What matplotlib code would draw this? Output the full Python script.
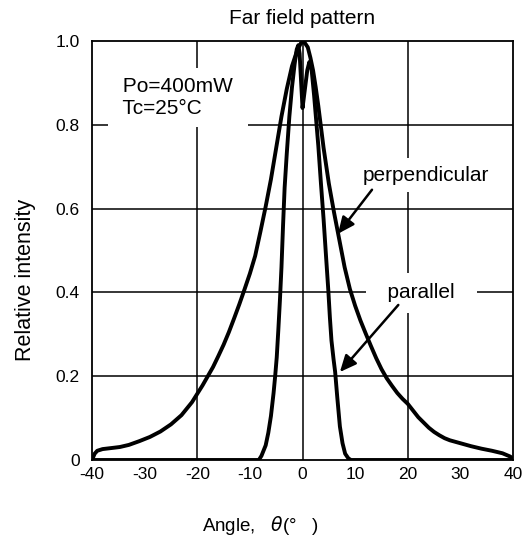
import matplotlib
matplotlib.use("Agg")
import matplotlib.pyplot as plt

plt.rcParams['font.family'] = ['Liberation Sans', 'DejaVu Sans']
plt.rcParams['mathtext.fontset'] = 'dejavusans'

# Perpendicular (wide) profile
perp_angle = [-40, -39.5, -39, -38, -36, -34.7, -33, -31, -29, -27, -25, -23, -21, -20, -19,
              -18, -17, -16, -15, -14, -13, -12, -11, -10, -9, -8, -7, -6, -5, -4, -3, -2,
              -1, -0.3, 0.3, 1, 1.5, 2, 2.5, 3, 3.5, 4, 5, 6, 7, 8, 9, 10, 11, 12, 13, 14,
              15, 16, 17, 18, 19, 20, 22, 24, 25, 26, 27, 28, 30, 32, 34, 36, 38, 39.5, 40]
perp_int = [0.0, 0.015, 0.022, 0.026, 0.029, 0.031, 0.036, 0.045, 0.055, 0.068, 0.085,
            0.107, 0.138, 0.158, 0.178, 0.20, 0.222, 0.248, 0.275, 0.305, 0.338, 0.372,
            0.408, 0.445, 0.487, 0.545, 0.605, 0.67, 0.745, 0.82, 0.885, 0.94, 0.978,
            0.995, 0.998, 0.985, 0.96, 0.93, 0.89, 0.845, 0.795, 0.745, 0.66, 0.59, 0.525,
            0.46, 0.408, 0.368, 0.333, 0.302, 0.272, 0.243, 0.217, 0.195, 0.177, 0.16,
            0.146, 0.134, 0.102, 0.077, 0.067, 0.059, 0.052, 0.047, 0.04, 0.033, 0.027,
            0.022, 0.016, 0.008, 0.0]

# Parallel (narrow) profile
par_angle = [-40, -8.3, -7.8, -7, -6.5, -6, -5.5, -5.2, -4.9, -4.6, -4.3, -4, -3.7, -3.4,
             -3, -2.5, -2, -1.5, -1.1, -0.8, -0.55, -0.3, 0, 0.4, 0.9, 1.3, 1.7, 2.2, 2.6,
             3, 3.5, 4, 4.5, 4.9, 5.2, 5.5, 5.9, 6.2, 6.6, 7.1, 7.6, 8.1, 8.7, 9.2, 40]
par_int = [0.0, 0.0, 0.01, 0.035, 0.065, 0.105, 0.16, 0.2, 0.245, 0.31, 0.38, 0.46, 0.56,
           0.65, 0.73, 0.82, 0.89, 0.945, 0.98, 0.99, 0.97, 0.91, 0.84, 0.88, 0.93, 0.95,
           0.935, 0.87, 0.81, 0.75, 0.66, 0.575, 0.48, 0.405, 0.34, 0.285, 0.24, 0.21,
           0.15, 0.08, 0.04, 0.015, 0.004, 0.0, 0.0]

x_ticks = [-40, -30, -20, -10, 0, 10, 20, 30, 40]
x_tick_labels = ['-40', '-30', '-20', '-10', '0', '10', '20', '30', '40']
y_ticks = [0, 0.2, 0.4, 0.6, 0.8, 1.0]
y_tick_labels = ['0', '0.2', '0.4', '0.6', '0.8', '1.0']
v_grid = [-20, 0, 20]
h_grid = [0.2, 0.4, 0.6, 0.8]

fig = plt.figure(figsize=(5.27, 5.38), dpi=100)
ax = fig.add_axes([0.1746, 0.145, 0.7989, 0.7788])

for g in v_grid:
    ax.axvline(g, color='black', lw=1.1, zorder=1)
for g in h_grid:
    ax.axhline(g, color='black', lw=1.1, zorder=1)

ax.plot(perp_angle, perp_int, color='black', lw=2.8, zorder=4,
        solid_joinstyle='round', solid_capstyle='round')
ax.plot(par_angle, par_int, color='black', lw=2.8, zorder=4,
        solid_joinstyle='round', solid_capstyle='round')

ax.set_xlim(-40, 40)
ax.set_ylim(0, 1.0)
ax.set_xticks(x_ticks)
ax.set_xticklabels(x_tick_labels, fontsize=12.5)
ax.set_yticks(y_ticks)
ax.set_yticklabels(y_tick_labels, fontsize=12.5)
ax.tick_params(axis='both', length=0)
ax.tick_params(axis='y', pad=9)
ax.tick_params(axis='x', pad=5)
for s in ax.spines.values():
    s.set_linewidth(1.3)
    s.set_zorder(5)

ax.set_title('Far field pattern', fontsize=15, pad=12)
ax.set_xlabel(r'Angle,   $\theta$(°   )', fontsize=13.5)
ax.xaxis.set_label_coords(0.40, -0.128)
ax.set_ylabel('Relative intensity', fontsize=15.5)
ax.yaxis.set_label_coords(-0.133, 0.43)

ax.text(-35.2, 0.865, ' Po=400mW \n Tc=25°C', fontsize=15, ha='left', va='center',
        linespacing=1.2, zorder=2,
        bbox=dict(facecolor='white', edgecolor='none', boxstyle='square,pad=0.45'))
ax.text(23.5, 0.68, 'perpendicular', fontsize=15, ha='center', va='center', zorder=2,
        bbox=dict(facecolor='white', edgecolor='none', boxstyle='square,pad=0.35'))
ax.text(22.6, 0.399, '  parallel  ', fontsize=15, ha='center', va='center', zorder=2,
        bbox=dict(facecolor='white', edgecolor='none', boxstyle='square,pad=0.5'))

arrow = dict(arrowstyle='-|>,head_length=1.0,head_width=0.45', color='black', lw=1.8,
             shrinkA=0, shrinkB=0)
ax.annotate('', xy=(6.75, 0.54), xytext=(13.2, 0.645), arrowprops=arrow, zorder=6)
ax.annotate('', xy=(7.1, 0.21), xytext=(18.2, 0.37), arrowprops=arrow, zorder=6)

fig.savefig('out.png', dpi=100)
